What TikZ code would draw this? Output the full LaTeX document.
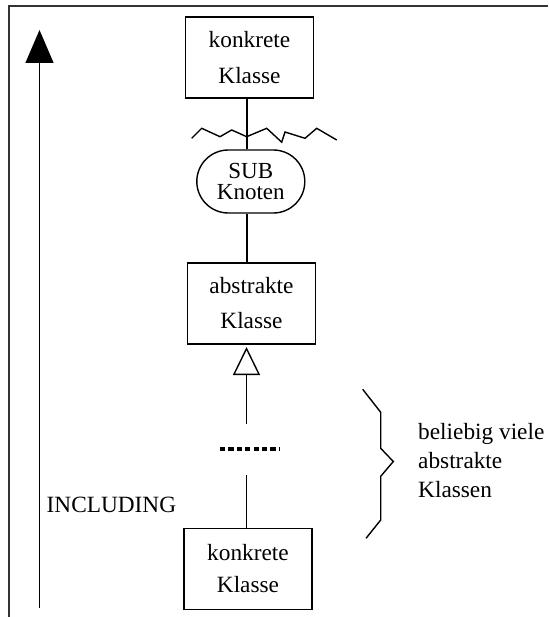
\documentclass[tikz,border=0pt]{standalone}
\usepackage{fontspec}
\setmainfont{Liberation Serif}
\usetikzlibrary{arrows.meta,shapes.misc}
\begin{document}
\begin{tikzpicture}[x=1pt,y=-1pt,
  stroke/.style={line width=1.4pt},
  classbox/.style={draw,stroke,minimum width=128pt,minimum height=81pt,
    inner sep=0pt,align=center},
  subnode/.style={draw,stroke,rounded rectangle,minimum width=108pt,
    minimum height=63pt,inner sep=0pt,align=center,
    font=\fontsize{23}{21}\selectfont},
  label/.style={inner sep=0pt,font=\fontsize{23.3}{29}\selectfont}]
  \useasboundingbox (0,0) rectangle (548,617);

  % frame
  \draw[line width=1.5pt,black!80] (9,617) -- (9,6) -- (548,6);

  % classes and the SUB node
  \node[classbox,font=\fontsize{23.3}{36}\selectfont] (top) at (249.5,57.5) {konkrete\\Klasse};
  \node[subnode] (sub) at (250.8,181.5) {SUB\\Knoten};
  \node[classbox,font=\fontsize{23.3}{35}\selectfont] (abs) at (251.5,303.3) {abstrakte\\Klasse};
  \node[classbox,font=\fontsize{23.3}{31.7}\selectfont] (bot) at (248,568.7) {konkrete\\Klasse};

  % vertical axis of the hierarchy
  \coordinate (axis) at (247,0);
  \coordinate (dotsup) at (246.5,424);
  \coordinate (dotsdown) at (246.5,475);

  \draw[stroke] (top.south -| axis) -- (sub.north -| axis);
  \draw[stroke] (sub.south -| axis) -- (abs.north -| axis);
  \draw[stroke,-{Triangle[open,width=27pt,length=28pt,line width=1.4pt]},shorten >=2.5pt]
    (dotsup) -- (abs.south -| dotsup);
  \draw[stroke] (dotsdown) -- (bot.north -| dotsdown);

  % broken link
  \draw[stroke] (191.7,138.3) -- (201.7,128.3) -- (220,136.7) -- (231.7,130)
    -- (246.7,136.7) -- (266.7,128.3) -- (281.7,142.2) -- (285,132) -- (305,138.3)
    -- (316.7,128.3) -- (336.7,140);

  % ellipsis between the classes
  \draw[line width=4.3pt,dash pattern=on 5.2pt off 3.2pt] (220,449) -- (280,449);

  % brace and its note
  \draw[stroke] (362.7,389.3) -- (380.7,412.3) -- (380.7,448.3) -- (393.3,461.5)
    -- (380.7,476.3) -- (380.7,520) -- (366,538.3);
  \node[label,anchor=west,align=left] (note) at (418,461) {beliebig viele\\abstrakte\\Klassen};

  % INCLUDING direction
  \coordinate (inclbottom) at (39.5,608);
  \coordinate (incltop) at (39.5,30);
  \draw[stroke,-{Triangle[width=28pt,length=33pt]}] (inclbottom) -- (incltop);
  \node[label,anchor=west] (incl) at (46.5,505) {INCLUDING};
\end{tikzpicture}
\end{document}
